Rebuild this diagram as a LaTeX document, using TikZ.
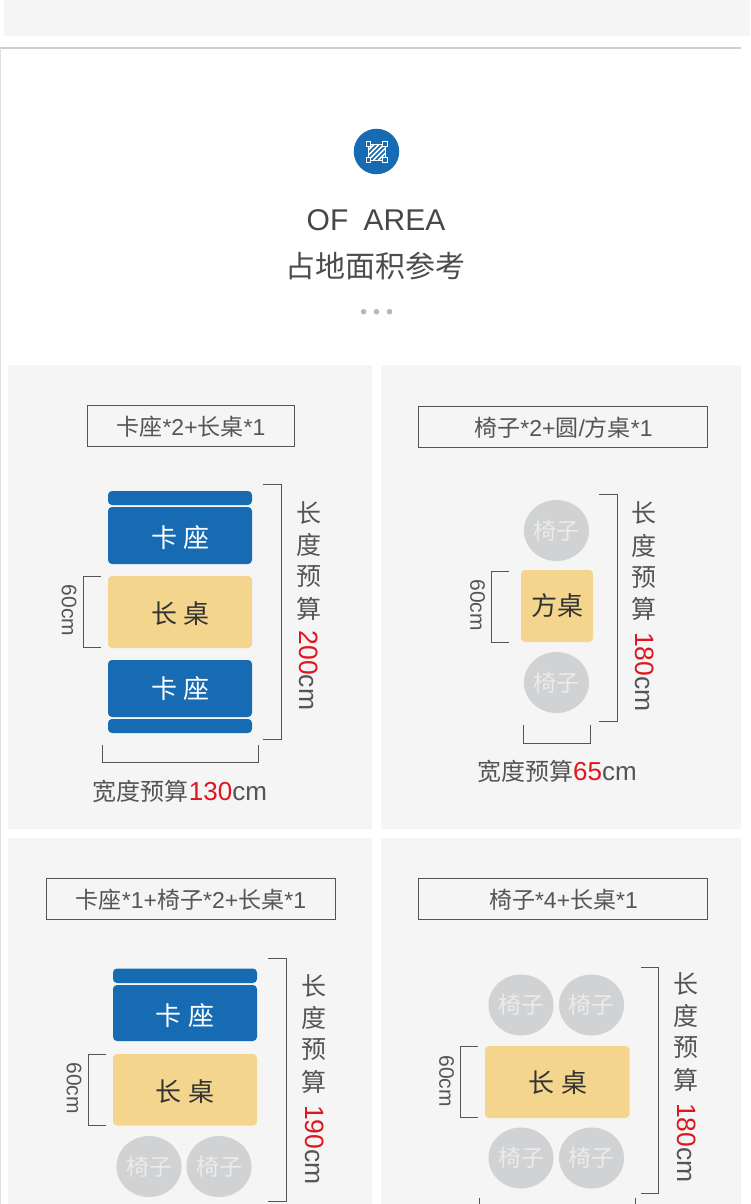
\documentclass[tikz,border=0pt]{standalone}
\usepackage{fontspec}
\setmainfont{Liberation Sans}
\newfontfamily\cjk{Noto Sans CJK SC}
\newcommand{\C}[1]{{\cjk #1}}
\newcommand{\R}[1]{\textcolor{numred}{#1}}
\newcommand{\gapped}[2]{\C{#1}\hspace{7pt}\C{#2}}
\definecolor{panel}{HTML}{F5F5F5}
\definecolor{seatblue}{HTML}{176BB2}
\definecolor{tableyellow}{HTML}{F4D58E}
\definecolor{chairgray}{HTML}{D1D2D4}
\definecolor{inkgray}{HTML}{555555}
\definecolor{numred}{HTML}{E0161E}
\definecolor{rulegray}{HTML}{C9CED3}
\tikzset{
  bgpanel/.style={fill=panel,draw=none},
  seatbox/.style={fill=seatblue,draw=none,rounded corners=4pt},
  tablebox/.style={fill=tableyellow,draw=none,rounded corners=4pt},
  bracket/.style={draw=inkgray,line width=0.9pt},
  titlebox/.style={draw=inkgray,line width=0.9pt,fill=none},
  titletext/.style={text=inkgray,font=\fontsize{23}{23}\selectfont,inner sep=0pt},
  seatlabel/.style={text=white,font=\fontsize{26}{26}\selectfont,inner sep=0pt},
  tablelabel/.style={text=black!80,font=\fontsize{26}{26}\selectfont,inner sep=0pt},
  chair/.style={ellipse,fill=chairgray,draw=none,minimum width=65pt,minimum height=61pt,inner sep=0pt,
     text=white!92!black,font=\fontsize{23}{23}\selectfont},
  vchar/.style={text=inkgray,font=\fontsize{25}{25}\selectfont,inner sep=0pt},
  vnum/.style={text=inkgray,font=\fontsize{26.5}{26.5}\selectfont,inner sep=0pt,rotate=-90},
  sixty/.style={text=inkgray,font=\fontsize{21}{21}\selectfont,inner sep=0pt,rotate=-90},
  widthtext/.style={text=inkgray,font=\fontsize{24}{24}\selectfont,inner sep=0pt},
  icon/.style={draw=white,line width=1pt},
}
\usetikzlibrary{shapes.geometric}
\begin{document}
\begin{tikzpicture}[x=1pt,y=-1pt]
\clip (0,0) rectangle (750,1204);
\fill[white] (0,0) rectangle (750,1204);
% top band and frame
\path[bgpanel] (4,0) rectangle (750,36);
\draw[rulegray,line width=2pt] (0,47.8) -- (741,47.8);
\draw[black!13,line width=1pt] (0.5,48) -- (0.5,1204);
% header
\node[circle,fill=seatblue,minimum size=45.5pt,inner sep=0pt] (badge) at (376.5,151.5) {};
\draw[icon] (368.5,144) rectangle (385,160);
\begin{scope}
  \clip (368.5,144) rectangle (385,160);
  \foreach \d in {-10,-5,0,5,10} \draw[white,line width=1.5pt] (368.5+\d,160) -- (384.5+\d,144);
\end{scope}
\foreach \a/\b in {368.5/144,385/144,368.5/160,385/160}
  \draw[white,line width=0.9pt,fill=seatblue] (\a-2.2,\b-2.2) rectangle (\a+2.2,\b+2.2);
\node[text=black!72,font=\fontsize{30}{30}\selectfont,inner sep=0pt] (en) at (376,220) {OF\hspace{7pt} AREA};
\node[text=black!70,font=\fontsize{30}{30}\selectfont,inner sep=0pt] (cn) at (375.5,266) {\C{占地面积参考}};
\foreach \n/\x in {d1/363.6,d2/376.5,d3/389.5}
  \node[circle,fill=black!28,minimum size=5.6pt,inner sep=0pt] (\n) at (\x,311.7) {};
% panels
\path[bgpanel] (8,365) rectangle (372,829);
\path[bgpanel] (381,365) rectangle (741,829);
\path[bgpanel] (8,838) rectangle (372,1204);
\path[bgpanel] (381,838) rectangle (741,1204);

% ---- panel 1
\path[titlebox] (87,405.5) rectangle (294,446);
\node[titletext] (t1) at (191,427) {\C{卡座}*2+\C{长桌}*1};
\path[seatbox] (108,491) rectangle (252,505);
\path[seatbox] (108,507) rectangle (252,564);
\path[tablebox] (108,576) rectangle (252,648);
\path[seatbox] (108,660) rectangle (252,717);
\path[seatbox] (108,719) rectangle (252,733);
\node[seatlabel] (a1) at (180.5,537.5) {\gapped{卡}{座}};
\node[tablelabel] (a2) at (180.5,613.5) {\gapped{长}{桌}};
\node[seatlabel] (a3) at (180.5,689) {\gapped{卡}{座}};
\draw[bracket] (263,484) -- (281,484) -- (281,739) -- (263,739);
\draw[bracket] (100.5,576.5) -- (83,576.5) -- (83,647.5) -- (100.5,647.5);
\draw[bracket] (102,745) -- (102,762) -- (258,762) -- (258,745);
\node[sixty] (a4) at (69,610.5) {60cm};
\node[vchar] (a5) at (309,513) {\C{长}};
\node[vchar] (a6) at (309,545) {\C{度}};
\node[vchar] (a7) at (309,577) {\C{预}};
\node[vchar] (a8) at (309,609) {\C{算}};
\node[vnum] (a9) at (309,670.5) {\R{200}cm};
\node[widthtext] (a10) at (180,791) {\C{宽度预算}\fontsize{26}{26}\selectfont\R{130}cm};

% ---- panel 2
\path[titlebox] (418,406.5) rectangle (707,447);
\node[titletext] (t2) at (563.5,428) {\C{椅子}*2+\C{圆}/\C{方桌}*1};
\node[chair] (b1) at (556.5,530.5) {\C{椅子}};
\node[chair] (b2) at (556.5,682.5) {\C{椅子}};
\path[tablebox] (521,570) rectangle (593,642);
\node[tablelabel] (b3) at (557,606) {\C{方桌}};
\draw[bracket] (599,494) -- (617,494) -- (617,721) -- (599,721);
\draw[bracket] (509,571) -- (491,571) -- (491,642) -- (509,642);
\draw[bracket] (523,725) -- (523,743) -- (590,743) -- (590,725);
\node[sixty] (b4) at (477.5,605) {60cm};
\node[vchar] (b5) at (644,513) {\C{长}};
\node[vchar] (b6) at (644,545.5) {\C{度}};
\node[vchar] (b7) at (644,577.5) {\C{预}};
\node[vchar] (b8) at (644,609) {\C{算}};
\node[vnum] (b9) at (645,672) {\R{180}cm};
\node[widthtext] (b10) at (557,771) {\C{宽度预算}\fontsize{26}{26}\selectfont\R{65}cm};

% ---- panel 3
\path[titlebox] (46,878) rectangle (335,919);
\node[titletext] (t3) at (191,899.5) {\C{卡座}*1+\C{椅子}*2+\C{长桌}*1};
\path[seatbox] (113,968.5) rectangle (257,983);
\path[seatbox] (113,985) rectangle (257,1041);
\path[tablebox] (113,1054) rectangle (257,1125.5);
\node[seatlabel] (c1) at (185,1016) {\gapped{卡}{座}};
\node[tablelabel] (c2) at (185,1092) {\gapped{长}{桌}};
\node[chair] (c3) at (149,1166.5) {\C{椅子}};
\node[chair] (c4) at (219,1166.5) {\C{椅子}};
\draw[bracket] (268,958.5) -- (286,958.5) -- (286,1201) -- (268,1201);
\draw[bracket] (105.5,1054) -- (88,1054) -- (88,1125) -- (105.5,1125);
\node[sixty] (c5) at (74,1088) {60cm};
\node[vchar] (c6) at (314,986) {\C{长}};
\node[vchar] (c7) at (314,1018) {\C{度}};
\node[vchar] (c8) at (314,1050) {\C{预}};
\node[vchar] (c9) at (314,1082) {\C{算}};
\node[vnum] (c10) at (315,1145) {\R{190}cm};

% ---- panel 4
\path[titlebox] (418,878) rectangle (707,919);
\node[titletext] (t4) at (563.5,899.5) {\C{椅子}*4+\C{长桌}*1};
\node[chair] (e1) at (521,1005) {\C{椅子}};
\node[chair] (e2) at (591.5,1005) {\C{椅子}};
\node[chair] (e3) at (521,1158) {\C{椅子}};
\node[chair] (e4) at (591.5,1158) {\C{椅子}};
\path[tablebox] (485,1046) rectangle (629.5,1118);
\node[tablelabel] (e5) at (557.5,1083) {\gapped{长}{桌}};
\draw[bracket] (641,967) -- (658,967) -- (658,1193) -- (641,1193);
\draw[bracket] (478,1046.5) -- (460,1046.5) -- (460,1117) -- (478,1117);
\draw[bracket] (479,1198) -- (479,1210) (635,1198) -- (635,1210);
\node[sixty] (e6) at (446.5,1081) {60cm};
\node[vchar] (e7) at (686,984) {\C{长}};
\node[vchar] (e8) at (686,1016) {\C{度}};
\node[vchar] (e9) at (686,1048) {\C{预}};
\node[vchar] (e10) at (686,1080) {\C{算}};
\node[vnum] (e11) at (687,1143) {\R{180}cm};
\end{tikzpicture}
\end{document}
